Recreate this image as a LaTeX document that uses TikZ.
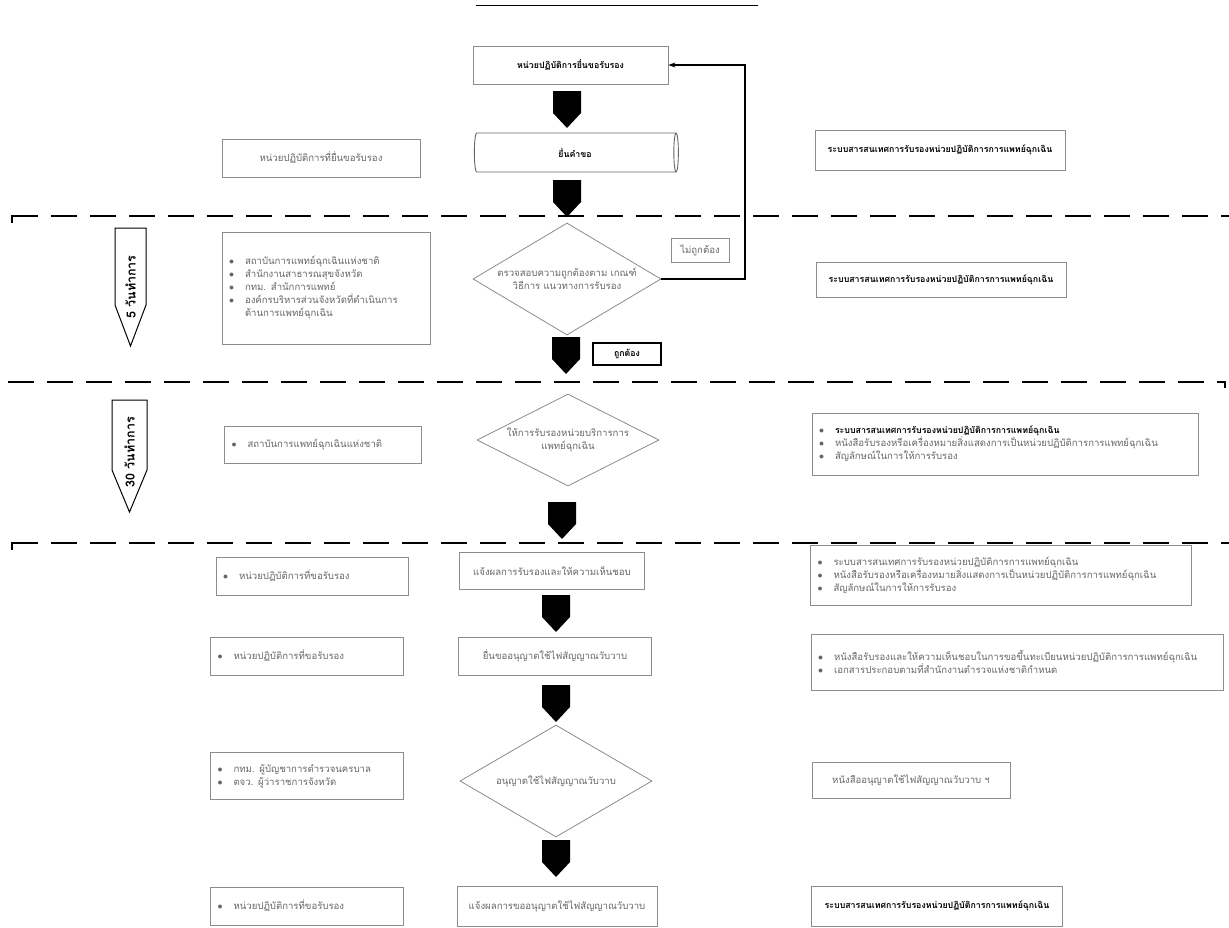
\documentclass[tikz,border=0pt]{standalone}
\usepackage{fontspec}
\newfontfamily\thai[Script=Thai]{Loma}
\usetikzlibrary{shapes.geometric,arrows.meta}
\begin{document}
\begin{tikzpicture}[x=1pt,y=-1pt,
  every node/.style={font=\thai\fontsize{9.6}{13}\selectfont},
  box/.style={draw=black!45, line width=0.8pt, fill=white, inner sep=0pt, align=center, text=black!60},
  bbox/.style={draw=black!45, line width=0.8pt, fill=white, inner xsep=7pt, inner ysep=3pt, align=left, text=black!60},
  strong/.style={text=black, font=\thai\bfseries\fontsize{8.8}{12}\selectfont},
  dia/.style={draw=black!45, line width=0.8pt, diamond, inner sep=0pt},
  diatext/.style={align=center, text=black!60, inner sep=0pt},
  sepline/.style={line width=2.2pt, dash pattern=on 26pt off 13pt},
  daylabel/.style={rotate=90, text=black, font=\thai\bfseries\fontsize{12.5}{14}\selectfont},
  blockdown/.pic={\fill[black] (-14,0) -- (14,0) -- (14,22) -- (0,37) -- (-14,22) -- cycle;},
]
\fill[white] (0,0) rectangle (1229,927);
\useasboundingbox (0,0) rectangle (1229,927);
\newcommand{\bul}{\makebox[16pt][l]{$\bullet$}}

% top rule
\draw[line width=0.8pt] (476,5) -- (758,5);

% separators
\draw[sepline] (12,216) -- (1229,216);
\draw[line width=1.6pt] (12,215) -- (12,223);
\draw[sepline] (8,382) -- (1225,382);
\draw[line width=1.6pt] (1225,381) -- (1225,388);
\draw[sepline] (12,543) -- (1229,543);
\draw[line width=1.6pt] (12,542) -- (12,550);

% row 1
\node[box, strong, minimum width=195pt, minimum height=38pt] (top) at (570.5,65) {หน่วยปฏิบัติการยื่นขอรับรอง};
\pic at (567,91) {blockdown};

% row 2
\node[draw=black!60, line width=0.9pt, cylinder, shape aspect=0.5, minimum width=39pt, minimum height=204pt, inner sep=0pt, strong] (cyl) at (575,152.5) {ยื่นคำขอ};
\node[box, minimum width=198pt, minimum height=38pt] (l2) at (321,158) {หน่วยปฏิบัติการที่ยื่นขอรับรอง};
\node[box, strong, minimum width=250pt, minimum height=40pt] (r2) at (940,150) {ระบบสารสนเทศการรับรองหน่วยปฏิบัติการการแพทย์ฉุกเฉิน};
\pic at (567,180) {blockdown};

% row 3
\node[dia, minimum width=188pt, minimum height=112pt] (d1) at (567,279) {};
\node[diatext] (d1t) at (d1.center) {ตรวจสอบความถูกต้องตาม เกณฑ์\\วิธีการ แนวทางการรับรอง};
\node[box, minimum width=58pt, minimum height=24pt] (no) at (700,250) {ไม่ถูกต้อง};
\coordinate (turn) at (745,65);
\draw[line width=1.1pt, -{Stealth[length=7pt,width=5pt]}] (d1.east) -| (turn) -- (top.east);
\node[bbox, text width=194pt, minimum height=112pt] (l3) at (326,288) {\bul สถาบันการแพทย์ฉุกเฉินแห่งชาติ\\ \bul สำนักงานสาธารณสุขจังหวัด\\ \bul กทม. สำนักการแพทย์\\ \bul องค์กรบริหารส่วนจังหวัดที่ดำเนินการ\\ \hspace*{16pt}ด้านการแพทย์ฉุกเฉิน};
\node[box, strong, minimum width=250pt, minimum height=35pt] (r3) at (941,280) {ระบบสารสนเทศการรับรองหน่วยปฏิบัติการการแพทย์ฉุกเฉิน};
\draw[line width=1pt] (115,228) -- (146,228) -- (146,305) -- (130.5,346) -- (115,305) -- cycle;
\node[daylabel] (p1) at (130.5,287) {5 วันทำการ};
\pic at (566,337) {blockdown};
\node[box, draw=black, line width=1.1pt, strong, minimum width=68pt, minimum height=22pt] (yes) at (627,354) {ถูกต้อง};

% row 4
\draw[line width=1pt] (112,400) -- (147,400) -- (147,470) -- (129.5,512) -- (112,470) -- cycle;
\node[daylabel] (p2) at (129.5,452) {30 วันทำการ};
\node[bbox, text width=183pt, minimum height=37pt] (l4) at (323,445) {\bul สถาบันการแพทย์ฉุกเฉินแห่งชาติ};
\node[dia, minimum width=182pt, minimum height=92pt] (d2) at (568,440) {};
\node[diatext] (d2t) at (d2.center) {ให้การรับรองหน่วยบริการการ\\แพทย์ฉุกเฉิน};
\node[bbox, text width=372pt, minimum height=62pt] (r4) at (1005,444) {\bul {\bfseries\color{black}\fontsize{8.8}{13}\selectfont ระบบสารสนเทศการรับรองหน่วยปฏิบัติการการแพทย์ฉุกเฉิน}\\ \bul หนังสือรับรองหรือเครื่องหมายสิ่งแสดงการเป็นหน่วยปฏิบัติการการแพทย์ฉุกเฉิน\\ \bul สัญลักษณ์ในการให้การรับรอง};
\pic at (562,502) {blockdown};

% row 5
\node[bbox, text width=178pt, minimum height=38pt] (l5) at (312,576) {\bul หน่วยปฏิบัติการที่ขอรับรอง};
\node[box, minimum width=185pt, minimum height=37pt] (c5) at (552,571) {แจ้งผลการรับรองและให้ความเห็นชอบ};
\node[bbox, text width=367pt, minimum height=60pt] (r5) at (1001,575) {\bul ระบบสารสนเทศการรับรองหน่วยปฏิบัติการการแพทย์ฉุกเฉิน\\ \bul หนังสือรับรองหรือเครื่องหมายสิ่งแสดงการเป็นหน่วยปฏิบัติการการแพทย์ฉุกเฉิน\\ \bul สัญลักษณ์ในการให้การรับรอง};
\pic at (556,595) {blockdown};

% row 6
\node[bbox, text width=179pt, minimum height=38pt] (l6) at (307,656) {\bul หน่วยปฏิบัติการที่ขอรับรอง};
\node[box, minimum width=193pt, minimum height=38pt] (c6) at (555,656) {ยื่นขออนุญาตใช้ไฟสัญญาณวับวาบ};
\node[bbox, text width=398pt, minimum height=56pt] (r6) at (1017,662) {\bul หนังสือรับรองและให้ความเห็นชอบในการขอขึ้นทะเบียนหน่วยปฏิบัติการการแพทย์ฉุกเฉิน\\ \bul เอกสารประกอบตามที่สำนักงานตำรวจแห่งชาติกำหนด};
\pic at (556,685) {blockdown};

% row 7
\node[dia, minimum width=192pt, minimum height=112pt] (d3) at (556,781) {};
\node[diatext] (d3t) at (d3.center) {อนุญาตใช้ไฟสัญญาณวับวาบ};
\node[bbox, text width=179pt, minimum height=47pt] (l7) at (307,776) {\bul กทม. ผู้บัญชาการตำรวจนครบาล\\ \bul ตจว. ผู้ว่าราชการจังหวัด};
\node[box, minimum width=198pt, minimum height=36pt] (r7) at (911,780) {หนังสืออนุญาตใช้ไฟสัญญาณวับวาบ ฯ};
\pic at (556,840) {blockdown};

% row 8
\node[box, minimum width=200pt, minimum height=40pt] (c8) at (557,906) {แจ้งผลการขออนุญาตใช้ไฟสัญญาณวับวาบ};
\node[bbox, text width=179pt, minimum height=38pt] (l8) at (307,906) {\bul หน่วยปฏิบัติการที่ขอรับรอง};
\node[box, strong, minimum width=251pt, minimum height=40pt] (r8) at (937,906) {ระบบสารสนเทศการรับรองหน่วยปฏิบัติการการแพทย์ฉุกเฉิน};
\end{tikzpicture}
\end{document}
